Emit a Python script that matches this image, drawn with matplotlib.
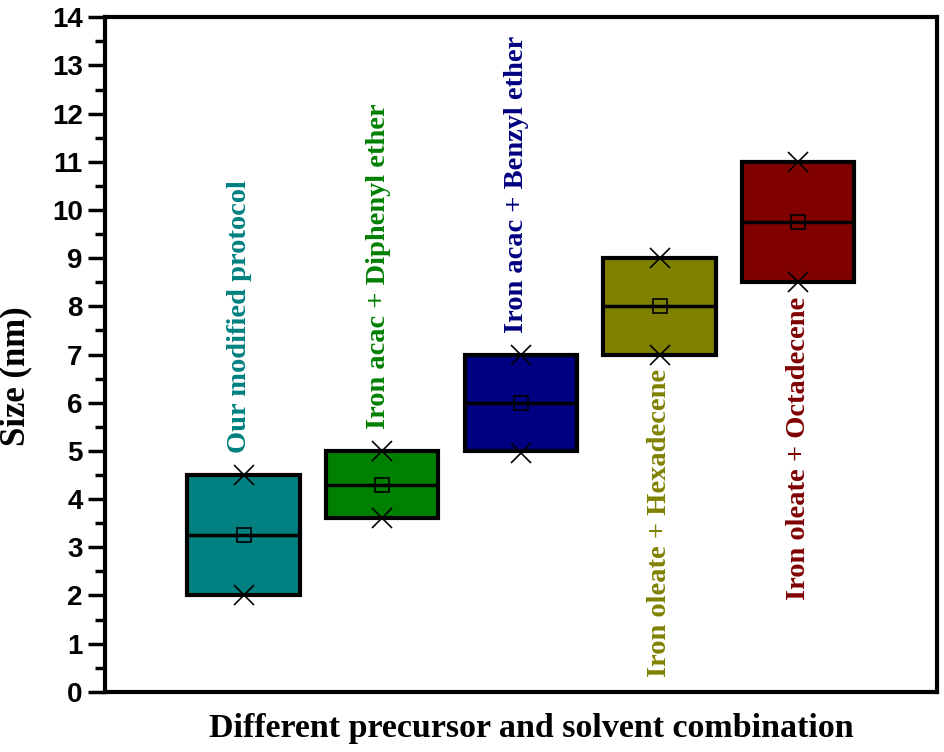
import matplotlib
matplotlib.use('Agg')
from matplotlib import pyplot as plt
from matplotlib.ticker import MultipleLocator

# box data (nm)
names = ['Our modified protocol',
         'Iron acac + Diphenyl ether',
         'Iron acac + Benzyl ether',
         'Iron oleate + Hexadecene',
         'Iron oleate + Octadecene']
box_low = [2.0, 3.6, 5.0, 7.0, 8.5]
box_high = [4.5, 5.0, 7.0, 9.0, 11.0]
medians = [3.25, 4.3, 6.0, 8.0, 9.75]
means = [3.25, 4.3, 6.0, 8.0, 9.75]
min_vals = [2.0, 3.6, 4.95, 7.0, 8.5]
max_vals = [4.5, 5.0, 7.0, 9.0, 11.0]
colors = ['#008080', '#008000', '#000080', '#808000', '#800000']
label_above = [True, True, True, False, False]

fig = plt.figure(figsize=(9.45, 7.52), dpi=100)
ax = fig.add_axes([0.111, 0.08, 0.8805, 0.897])

pos = list(range(1, len(names) + 1))
heights = [h - l for h, l in zip(box_high, box_low)]
ax.bar(pos, heights, bottom=box_low, width=0.81, color=colors,
       edgecolor='black', linewidth=3, zorder=2)
for i, p in enumerate(pos):
    ax.plot([p - 0.405, p + 0.405], [medians[i], medians[i]],
            color='black', lw=2.5, zorder=3, solid_capstyle='butt')
ax.plot(pos, means, ls='none', marker='s', ms=10, mfc='none',
        mec='black', mew=1.2, zorder=4)
ax.plot(pos, min_vals, ls='none', marker='x', ms=15, color='black',
        mew=1.2, zorder=4)
ax.plot(pos, max_vals, ls='none', marker='x', ms=15, color='black',
        mew=1.2, zorder=4)

for i, p in enumerate(pos):
    if label_above[i]:
        ax.text(p - 0.03, box_high[i] + 0.45, names[i], rotation=90,
                ha='center', va='bottom', color=colors[i],
                family='Liberation Serif', weight='bold', fontsize=20.5)
    else:
        ax.text(p, box_low[i] - 0.3, names[i], rotation=90,
                ha='center', va='top', color=colors[i],
                family='Liberation Serif', weight='bold', fontsize=20.5)

ax.set_xlim(0, 6)
ax.set_ylim(0, 14)
ax.yaxis.set_major_locator(MultipleLocator(1))
ax.yaxis.set_minor_locator(MultipleLocator(0.5))
ax.set_xticks([])
ax.tick_params(axis='y', which='major', direction='out', length=12,
               width=2.5, labelsize=20, pad=4)
ax.tick_params(axis='y', which='minor', direction='out', length=7,
               width=2.5)
for lab in ax.get_yticklabels():
    lab.set_family('Liberation Sans')
    lab.set_weight('bold')
for s in ax.spines.values():
    s.set_linewidth(3)

ax.set_ylabel('Size (nm)', family='Liberation Serif', weight='bold',
              fontsize=25)
ax.yaxis.set_label_coords(-0.087, 0.468)
ax.set_xlabel('Different precursor and solvent combination',
              family='Liberation Serif', weight='bold', fontsize=24.5)
ax.xaxis.set_label_coords(0.513, -0.031)

fig.savefig('out.png', dpi=100)
